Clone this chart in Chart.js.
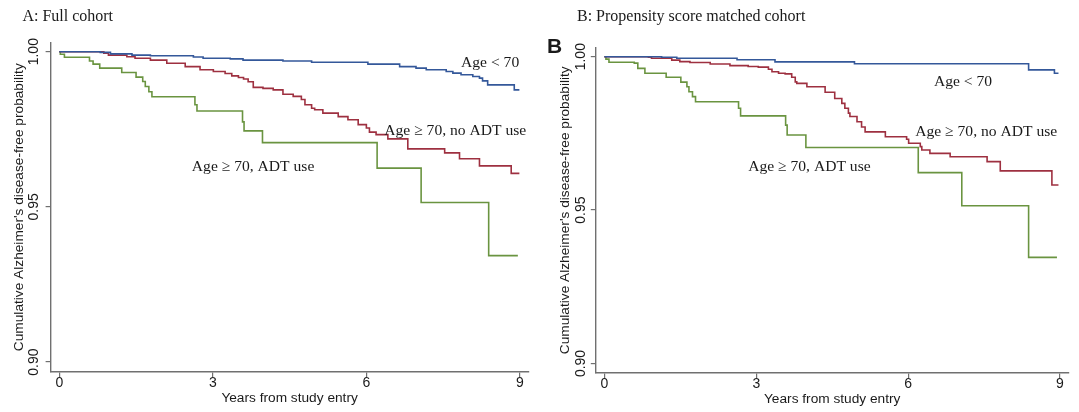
<!DOCTYPE html>
<html>
<head>
<meta charset="utf-8">
<script src="https://cdn.jsdelivr.net/npm/chart.js@4.4.1/dist/chart.umd.min.js"></script>
<style>
  html, body { margin: 0; padding: 0; background: #ffffff; }
  #wrap { position: relative; width: 1079px; height: 412px; overflow: hidden; background: #fff; }
  canvas { position: absolute; top: 0; }
</style>
</head>
<body>
<div id="wrap">
  <canvas id="cA" width="540" height="412" style="left:0px"></canvas>
  <canvas id="cB" width="539" height="412" style="left:540px"></canvas>
</div>
<script>
// ---------- data ----------
const panelTitles = ["A: Full cohort", "B: Propensity score matched cohort"];
const seriesNames = ["Age < 70", "Age \u2265 70, no ADT use", "Age \u2265 70, ADT use"];
const xTickValues = [0, 3, 6, 9];
const yTickValues = [0.90, 0.95, 1.00];
const xAxisTitle = "Years from study entry";
const yAxisTitle = "Cumulative Alzheimer's disease-free probability";

// Panel A: full cohort
const fullYoungTime  = [0, 0.80, 1.00, 1.42, 1.78, 2.62, 2.81, 3.34, 3.59, 4.37, 4.93, 6.03, 6.65, 6.97, 7.17, 7.56, 7.69, 7.85, 8.08, 8.21, 8.27, 8.37, 8.89, 8.99];
const fullYoungSurv  = [1.0, 0.9998, 0.9993, 0.9989, 0.9987, 0.9983, 0.9979, 0.9977, 0.9973, 0.9970, 0.9966, 0.9960, 0.9952, 0.9947, 0.9942, 0.9936, 0.9931, 0.9926, 0.9920, 0.9915, 0.9906, 0.9893, 0.9877, 0.9877];
const fullNoAdtTime  = [0, 0.87, 0.96, 1.32, 1.48, 1.78, 2.10, 2.46, 2.75, 3.01, 3.24, 3.37, 3.50, 3.60, 3.69, 3.79, 3.98, 4.18, 4.37, 4.57, 4.73, 4.80, 4.93, 4.99, 5.15, 5.45, 5.64, 5.84, 6.00, 6.06, 6.19, 6.42, 6.81, 7.53, 7.82, 8.21, 8.83, 8.99];
const fullNoAdtSurv  = [1.0, 0.9995, 0.9989, 0.9984, 0.9979, 0.9973, 0.9963, 0.9952, 0.9942, 0.9936, 0.9930, 0.9922, 0.9917, 0.9912, 0.9903, 0.9885, 0.9882, 0.9877, 0.9863, 0.9856, 0.9846, 0.9829, 0.9818, 0.9813, 0.9802, 0.9791, 0.9781, 0.9765, 0.9754, 0.9741, 0.9733, 0.9719, 0.9687, 0.9674, 0.9655, 0.9632, 0.9608, 0.9608];
const fullAdtTime    = [0, 0.02, 0.10, 0.59, 0.66, 0.79, 1.22, 1.50, 1.63, 1.68, 1.75, 1.81, 2.65, 2.69, 3.58, 3.61, 3.97, 6.21, 7.07, 8.39, 8.96];
const fullAdtSurv    = [1.0, 0.9992, 0.9982, 0.9970, 0.9960, 0.9947, 0.9933, 0.9918, 0.9904, 0.9888, 0.9871, 0.9855, 0.9829, 0.9809, 0.9774, 0.9745, 0.9707, 0.9625, 0.9514, 0.9343, 0.9343];

// Panel B: propensity score matched cohort
const psmYoungTime   = [0, 1.13, 1.43, 2.62, 3.37, 4.94, 8.38, 8.89, 8.97];
const psmYoungSurv   = [1.0, 0.9998, 0.9995, 0.9990, 0.9983, 0.9977, 0.9957, 0.9946, 0.9946];
const psmNoAdtTime   = [0, 0.87, 0.93, 1.33, 1.49, 1.69, 2.09, 2.48, 2.84, 3.04, 3.24, 3.31, 3.44, 3.57, 3.70, 3.77, 3.80, 4.00, 4.36, 4.55, 4.69, 4.75, 4.82, 4.85, 4.99, 5.08, 5.15, 5.55, 5.97, 6.01, 6.24, 6.27, 6.43, 6.83, 7.56, 7.82, 8.84, 8.97];
const psmNoAdtSurv   = [1.0, 0.9998, 0.9995, 0.9989, 0.9984, 0.9981, 0.9976, 0.9971, 0.9968, 0.9966, 0.9959, 0.9951, 0.9946, 0.9944, 0.9933, 0.9918, 0.9913, 0.9902, 0.9884, 0.9864, 0.9848, 0.9832, 0.9816, 0.9805, 0.9788, 0.9771, 0.9755, 0.9739, 0.9731, 0.9718, 0.9707, 0.9696, 0.9685, 0.9674, 0.9658, 0.9628, 0.9582, 0.9582];
const psmAdtTime     = [0, 0.03, 0.09, 0.59, 0.66, 0.80, 1.22, 1.51, 1.63, 1.67, 1.74, 1.80, 2.65, 2.69, 3.58, 3.61, 3.98, 6.20, 7.06, 8.38, 8.94];
const psmAdtSurv     = [1.0, 0.9992, 0.9982, 0.9979, 0.9962, 0.9946, 0.9933, 0.9917, 0.9902, 0.9886, 0.9870, 0.9853, 0.9832, 0.9807, 0.9777, 0.9745, 0.9704, 0.9622, 0.9514, 0.9346, 0.9346];

// label anchors (in data units: years, probability)
const fullLabelAnchors = [[7.85, 0.99636], [6.35, 0.97444], [2.59, 0.96284]];
const psmLabelAnchors  = [[6.51, 0.99175], [6.14, 0.97546], [2.84, 0.96405]];

// ---------- styling ----------
const COLORS = ['#34589a', '#9e3040', '#6a9440'];
const AXIS_COLOR = '#707070';
const SANS = '"Liberation Sans", Arial, sans-serif';
const SERIF = '"Liberation Serif", "Times New Roman", serif';

function toPoints(t, s) { return t.map((x, i) => ({ x: x, y: s[i] })); }

const textPlugin = {
  id: 'kmTexts',
  afterDraw(chart, args, o) {
    const ctx = chart.ctx;
    const xs = chart.scales.x, ys = chart.scales.y;
    ctx.save();
    ctx.fillStyle = '#1a1a1a';
    // panel title
    ctx.font = '16px ' + SERIF;
    ctx.textAlign = 'left'; ctx.textBaseline = 'middle';
    ctx.fillText(o.title, o.titleX, o.titleY);
    if (o.letter) {
      ctx.font = 'bold 21px ' + SANS;
      ctx.fillText(o.letter, o.letterX, o.letterY);
    }
    // y tick labels (rotated)
    ctx.font = '14px ' + SANS;
    ctx.textAlign = 'center'; ctx.textBaseline = 'middle';
    yTickValues.forEach(v => {
      const py = ys.getPixelForValue(v);
      ctx.save();
      ctx.translate(ys.right - o.yLabelGap, py);
      ctx.rotate(-Math.PI / 2);
      ctx.fillText(v.toFixed(2), 0, 0);
      ctx.restore();
    });
    // y axis title
    ctx.font = '13.7px ' + SANS;
    ctx.save();
    ctx.translate(ys.right - o.yTitleGap, (chart.chartArea.top + chart.chartArea.bottom) / 2 + o.yTitleShift);
    ctx.rotate(-Math.PI / 2);
    ctx.fillText(yAxisTitle, 0, 0);
    ctx.restore();
    // x tick labels
    ctx.font = '14px ' + SANS;
    xTickValues.forEach(v => {
      ctx.fillText(String(v), xs.getPixelForValue(v), xs.top + o.xLabelGap);
    });
    ctx.font = '13.7px ' + SANS;
    ctx.fillText(xAxisTitle, xs.getPixelForValue(4.5), xs.top + o.xTitleGap);
    // curve labels
    ctx.font = '15.6px ' + SERIF;
    ctx.textAlign = 'left';
    o.anchors.forEach((a, i) => {
      ctx.fillText(seriesNames[i], xs.getPixelForValue(a[0]), ys.getPixelForValue(a[1]));
    });
    ctx.restore();
  }
};

function makeChart(id, sets, geo, textOpts) {
  const datasets = sets.map((p, i) => ({
    label: seriesNames[i],
    data: toPoints(p[0], p[1]),
    borderColor: COLORS[i],
    borderWidth: 1.6,
    stepped: 'before',
    pointRadius: 0,
    fill: false,
    tension: 0
  }));
  return new Chart(document.getElementById(id), {
    type: 'line',
    data: { datasets },
    options: {
      responsive: false,
      animation: false,
      devicePixelRatio: 1,
      layout: { padding: { top: geo.top, right: geo.right, left: 0, bottom: 0 } },
      plugins: { legend: { display: false }, tooltip: { enabled: false }, kmTexts: textOpts },
      scales: {
        x: {
          type: 'linear', min: -0.17, max: 9.17,
          afterBuildTicks: s => { s.ticks = xTickValues.map(v => ({ value: v })); },
          afterFit: s => { s.height = geo.bottomH; },
          ticks: { display: false },
          grid: { display: true, drawOnChartArea: false, drawTicks: true, tickLength: 5, color: AXIS_COLOR, lineWidth: 1.2 },
          border: { display: true, color: AXIS_COLOR, width: 1.4 }
        },
        y: {
          type: 'linear', min: geo.ymin, max: geo.ymax,
          afterBuildTicks: s => { s.ticks = yTickValues.map(v => ({ value: v })); },
          afterFit: s => { s.width = geo.leftW; },
          ticks: { display: false },
          grid: { display: true, drawOnChartArea: false, drawTicks: true, tickLength: 5, color: AXIS_COLOR, lineWidth: 1.2 },
          border: { display: true, color: AXIS_COLOR, width: 1.4 }
        }
      }
    },
    plugins: [textPlugin]
  });
}

makeChart('cA',
  [[fullYoungTime, fullYoungSurv], [fullNoAdtTime, fullNoAdtSurv], [fullAdtTime, fullAdtSurv]],
  { top: 42.4, right: 11.4, leftW: 50.6, bottomH: 40, ymin: 0.8968, ymax: 1.003 },
  { title: panelTitles[0], titleX: 22.4, titleY: 16.5, anchors: fullLabelAnchors,
    yLabelGap: 16, yTitleGap: 31.5, yTitleShift: 0, xLabelGap: 11, xTitleGap: 26 });

makeChart('cB',
  [[psmYoungTime, psmYoungSurv], [psmNoAdtTime, psmNoAdtSurv], [psmAdtTime, psmAdtSurv]],
  { top: 47.5, right: 10.4, leftW: 55.8, bottomH: 39, ymin: 0.8969, ymax: 1.003 },
  { title: panelTitles[1], titleX: 37, titleY: 16.5, letter: 'B', letterX: 7, letterY: 47, anchors: psmLabelAnchors,
    yLabelGap: 15, yTitleGap: 30.5, yTitleShift: 0, xLabelGap: 11, xTitleGap: 26 });
</script>
</body>
</html>
